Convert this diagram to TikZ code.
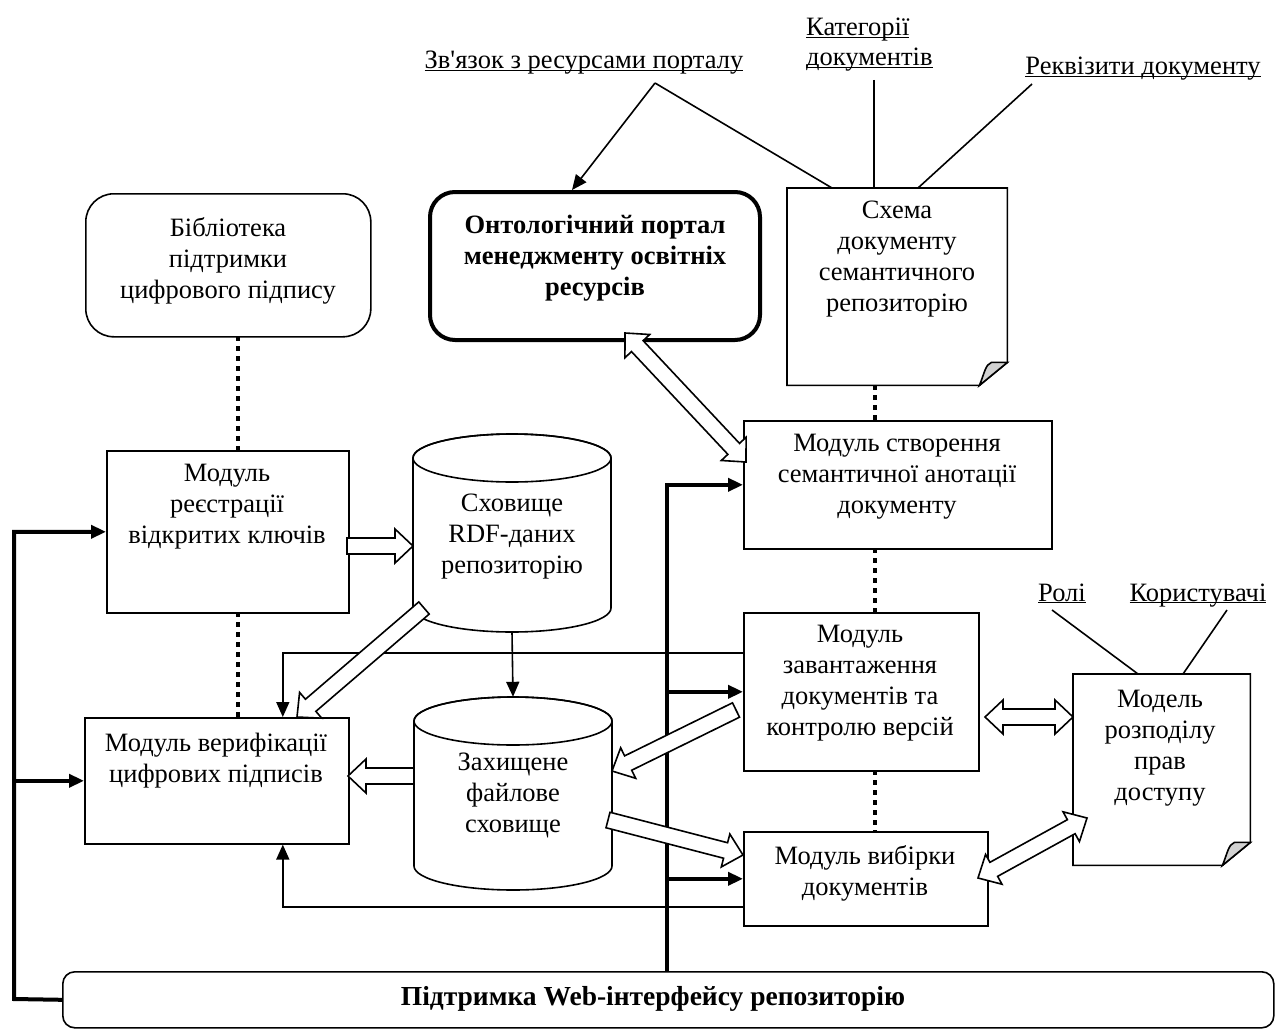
\documentclass[tikz,border=0pt]{standalone}
\usepackage{fontspec}
\setmainfont{Liberation Serif}
\usetikzlibrary{arrows.meta,calc,positioning}

\newcommand{\fsz}{\fontsize{26.5}{31}\selectfont}
\newcommand{\ulin}[1]{\underline{\smash{#1}}}

\tikzset{
  box/.style={draw, line width=1.6pt, fill=white, inner sep=0pt, anchor=north west},
  txt/.style={align=center, font=\fsz, inner sep=0pt},
  lab/.style={font=\fsz, inner sep=0pt, anchor=base},
  thinln/.style={line width=1.6pt},
  thickln/.style={line width=4pt},
  dotln/.style={line width=4.5pt, dash pattern=on 5pt off 5pt},
  arr/.style={-{Triangle[length=15pt,width=13pt]}},
  hollow/.style={draw, line width=1.6pt, fill=white, line join=miter},
}

% block arrow from #1 to #2
\newcommand{\blockarrow}[2]{%
  \draw[hollow] let \p1=($(#2)-(#1)$), \n1={veclen(\x1,\y1)}, \n2={atan2(\y1,\x1)} in
    [shift={(#1)}, rotate=\n2]
    (0pt,-8pt) -- ({\n1-18pt},-8pt) -- ({\n1-18pt},-17pt) -- (\n1,0pt)
    -- ({\n1-18pt},17pt) -- ({\n1-18pt},8pt) -- (0pt,8pt) -- cycle;}
% block arrow with two heads
\newcommand{\blockarrows}[2]{%
  \draw[hollow] let \p1=($(#2)-(#1)$), \n1={veclen(\x1,\y1)}, \n2={atan2(\y1,\x1)} in
    [shift={(#1)}, rotate=\n2]
    (18pt,-8pt) -- ({\n1-18pt},-8pt) -- ({\n1-18pt},-17pt) -- (\n1,0pt)
    -- ({\n1-18pt},17pt) -- ({\n1-18pt},8pt) -- (18pt,8pt) -- (18pt,17pt)
    -- (0pt,0pt) -- (18pt,-17pt) -- cycle;}

\begin{document}
\begin{tikzpicture}[x=1pt, y=-1pt]
\useasboundingbox (0,0) rectangle (1276,1030);

% labels
\node[lab] (link) at (584,69) {\ulin{Зв\textquotesingle язок з ресурсами порталу}};
\node[lab, anchor=base west] (cat1) at (806,36) {\ulin{Категорії}};
\node[lab, anchor=base west] (cat2) at (806,66) {\ulin{документів}};
\node[lab] (req) at (1143,75) {\ulin{Реквізити документу}};
\node[lab] (roles) at (1062,601) {\ulin{Ролі}};
\node[lab] (users) at (1198,601) {\ulin{Користувачі}};

% label lines
\coordinate (linkpt) at (655,83);
\draw[thinln, arr] (linkpt) -- (572,190);
\draw[thinln] (linkpt) -- (832,188);
\draw[thinln] (874,80) -- (874,188);
\draw[thinln] (1032,84) -- (918,188);
\draw[thinln] (1052,610) -- (1138,674);
\draw[thinln] (1227,610) -- (1183,674);

% dotted links
\draw[dotln] (238,336) -- (238,450);
\draw[dotln] (238,612) -- (238,717);
\draw[dotln] (875,385) -- (875,420);
\draw[dotln] (875,548) -- (875,612);
\draw[dotln] (875,770) -- (875,831);

% boxes
\node[box, rounded corners=28pt, minimum width=285pt, minimum height=143pt] (lib) at (85,193) {};
\node[box, rounded corners=25pt, line width=4pt, minimum width=330pt, minimum height=148pt] (portal) at (428,190) {};
\node[box, minimum width=242pt, minimum height=162pt] (reg) at (106,450) {};
\node[box, minimum width=264pt, minimum height=126pt] (ver) at (84,717) {};
\node[box, minimum width=308pt, minimum height=128pt] (sem) at (743,420) {};
\node[box, minimum width=235pt, minimum height=158pt] (load) at (743,612) {};
\node[box, minimum width=244pt, minimum height=94pt] (sel) at (743,831) {};
\node[box, rounded corners=12pt, minimum width=1211pt, minimum height=56pt] (web) at (62,971) {};

% documents with folded corner
\node[inner sep=0pt, minimum width=220pt, minimum height=197pt, anchor=north west] (schema) at (787,188) {};
\node[inner sep=0pt, minimum width=177pt, minimum height=191pt, anchor=north west] (model) at (1073,674) {};
\foreach \d in {schema, model} {
  \draw[thinln, fill=white] (\d.north west) -- (\d.north east) -- ($(\d.south east)+(0,-23)$)
    -- ($(\d.south east)+(-28,0)$) -- (\d.south west) -- cycle;
  \draw[thinln, fill=gray!35] ($(\d.south east)+(-28,0)$) .. controls ($(\d.south east)+(-23,-12)$)
    and ($(\d.south east)+(-22,-21)$) .. ($(\d.south east)+(-16,-23)$) -- ($(\d.south east)+(0,-23)$) -- cycle;
}

% cylinders
\node[inner sep=0pt, minimum width=198pt, minimum height=199pt] (rdf) at (512,532.5) {};
\node[inner sep=0pt, minimum width=198pt, minimum height=193pt] (store) at (513,793.5) {};
\draw[thinln, fill=white] (413,458) -- (413,608) arc[start angle=180, end angle=360, x radius=99pt, y radius=24pt]
  -- (611,458) arc[start angle=0, end angle=180, x radius=99pt, y radius=24pt] -- cycle;
\draw[thinln] (512,458) ellipse[x radius=99pt, y radius=24pt];
\draw[thinln, fill=white] (414,721) -- (414,866) arc[start angle=180, end angle=360, x radius=99pt, y radius=24pt]
  -- (612,721) arc[start angle=0, end angle=180, x radius=99pt, y radius=24pt] -- cycle;
\draw[thinln] (513,721) ellipse[x radius=99pt, y radius=24pt];

% texts
\node[txt] (libT) at (228,261) {Бібліотека\\підтримки\\цифрового підпису};
\node[txt, font=\fsz\bfseries] (portalT) at (595,258) {Онтологічний портал\\менеджменту освітніх\\ресурсів};
\node[txt] (schemaT) at (897,259) {Схема\\документу\\семантичного\\репозиторію};
\node[txt] (regT) at (227,507) {Модуль\\реєстрації\\відкритих ключів};
\node[txt] (verT) at (216,761) {Модуль верифікації\\цифрових підписів};
\node[txt] (semT) at (897,477) {Модуль створення\\семантичної анотації\\документу};
\node[txt] (loadT) at (860,683) {Модуль\\завантаження\\документів та\\контролю версій};
\node[txt] (selT) at (865,873) {Модуль вибірки\\документів};
\node[txt] (modelT) at (1160,748) {Модель\\розподілу\\прав\\доступу};
\node[txt] (rdfT) at (512,537) {Сховище\\RDF-даних\\репозиторію};
\node[txt] (storeT) at (513,795) {Захищене\\файлове\\сховище};
\node[txt, font=\fontsize{27.5}{31}\selectfont\bfseries] (webT) at (653,999) {Підтримка Web-інтерфейсу репозиторію};

% thin connectors
\draw[thinln, arr] (rdf.south) -- (store.north);
\draw[thinln, arr] (load.west |- 0,653) -| ($(ver.north)+(66,0)$);
\draw[thinln, arr] (sel.west |- 0,907) -| ($(ver.south)+(66,0)$);

% thick connectors
\coordinate (bus) at (667,971);
\draw[thickln, arr] (bus) |- (sem.west);
\draw[thickln, arr] (bus |- load.west) -- (load.west);
\draw[thickln, arr] (bus |- sel.west) -- (sel.west);
\coordinate (loop) at (14,999);
\draw[thickln, arr] (web.west) -- (loop) |- (reg.west);
\draw[thickln, arr] (loop |- ver.west) -- (ver.west);

% block arrows
\blockarrow{347,546}{413,546}
\blockarrow{424,608}{297,717}
\blockarrow{414,776}{348,776}
\blockarrow{736,710}{612,771}
\blockarrow{608,820}{743,855}
\blockarrows{625,333}{746,462}
\blockarrows{985,717}{1073,717}
\blockarrows{978,878}{1087,818}
\end{tikzpicture}
\end{document}
